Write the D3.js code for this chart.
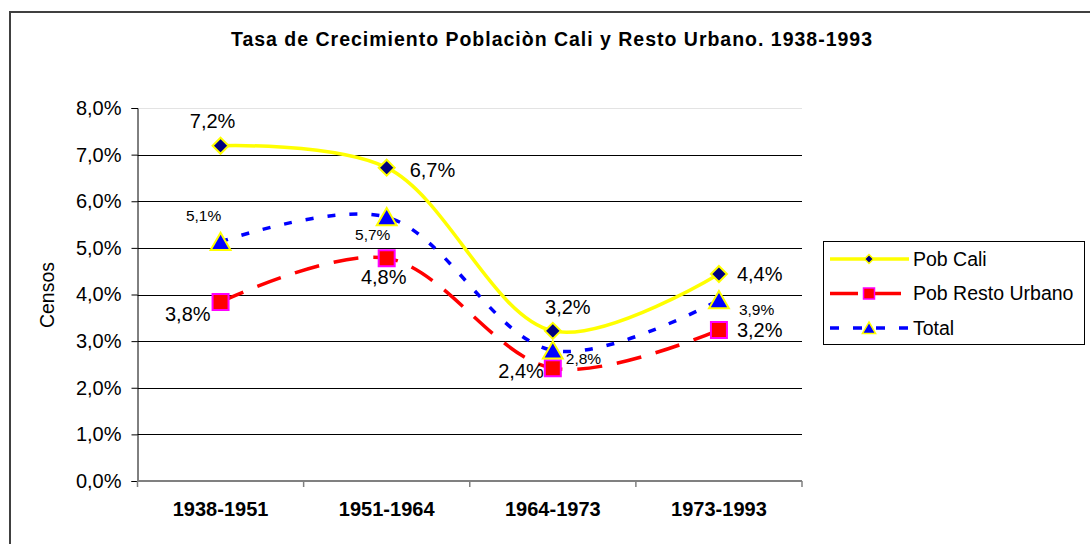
<!DOCTYPE html>
<html>
<head>
<meta charset="utf-8">
<script src="https://cdn.jsdelivr.net/npm/d3@7"></script>
<style>
  body { margin: 0; background: #fff; }
  svg { display: block; font-family: "Liberation Sans", Arial, sans-serif; }
</style>
</head>
<body>
<svg id="chart" width="1090" height="544"></svg>
<script>
// data
var categories = ["1938-1951", "1951-1964", "1964-1973", "1973-1993"];
var pobCali = [7.19, 6.72, 3.22, 4.44];
var pobResto = [3.84, 4.78, 2.42, 3.24];
var total = [5.13, 5.66, 2.80, 3.88];
var yTicks = [0, 1, 2, 3, 4, 5, 6, 7, 8];
var seriesNames = ["Pob Cali", "Pob Resto Urbano", "Total"];

var svg = d3.select("#chart");
// note: "top" is taken by window.top, so plot edges get their own names
var plotLeft = 137.5, plotRight = 802, plotTop = 108, plotBottom = 481;

var x = d3.scaleBand().domain(categories).range([plotLeft, plotRight]);
var y = d3.scaleLinear().domain([0, 8]).range([plotBottom, plotTop]);

var fmt = function (v) { return d3.format(".1f")(v).replace(".", ",") + "%"; };

// outer frame
svg.append("rect")
    .attr("x", 10).attr("y", 12)
    .attr("width", 1200).attr("height", 700)
    .attr("fill", "none").attr("stroke", "#404040").attr("stroke-width", 2);

// title
svg.append("text")
    .attr("x", 231).attr("y", 46)
    .attr("textLength", 641).attr("lengthAdjust", "spacing")
    .attr("font-size", 19.5).attr("font-weight", "bold")
    .text("Tasa de Crecimiento Poblaciòn Cali y Resto Urbano. 1938-1993");

// gridlines
svg.append("g").selectAll("line")
    .data(yTicks.filter(function (d) { return d > 0; }))
    .join("line")
    .attr("x1", plotLeft).attr("x2", plotRight)
    .attr("y1", function (d) { return Math.round(y(d)) + 0.5; })
    .attr("y2", function (d) { return Math.round(y(d)) + 0.5; })
    .attr("stroke", function (d) { return d === 8 ? "#e3e3e3" : "#000"; })
    .attr("stroke-width", 1);

// y axis
var yAxis = svg.append("g")
    .attr("transform", "translate(" + plotLeft + ",0)")
    .call(d3.axisLeft(y).tickValues(yTicks).tickSize(6).tickPadding(10).tickFormat(fmt));
yAxis.select(".domain").attr("stroke", "#000");
yAxis.selectAll(".tick line").attr("stroke", "#000");
yAxis.selectAll("text").attr("font-size", 20).attr("font-family", "Liberation Sans, Arial, sans-serif").attr("fill", "#000");

svg.append("text")
    .attr("transform", "translate(54,295) rotate(-90)")
    .attr("text-anchor", "middle")
    .attr("font-size", 19.5)
    .text("Censos");

// x axis: ticks on category boundaries
var bounds = categories.map(function (c) { return x(c); }).concat([plotRight]);
svg.append("line")
    .attr("x1", plotLeft).attr("x2", plotRight)
    .attr("y1", plotBottom).attr("y2", plotBottom)
    .attr("stroke", "#808080").attr("stroke-width", 2);
svg.append("g").selectAll("line")
    .data(bounds)
    .join("line")
    .attr("x1", function (d) { return d; }).attr("x2", function (d) { return d; })
    .attr("y1", plotBottom).attr("y2", plotBottom + 6)
    .attr("stroke", "#808080").attr("stroke-width", 1.5);
svg.append("g").selectAll("text")
    .data(categories)
    .join("text")
    .attr("x", function (d) { return x(d) + x.bandwidth() / 2; })
    .attr("y", 516)
    .attr("text-anchor", "middle")
    .attr("font-size", 20).attr("font-weight", "bold")
    .text(function (d) { return d; });

var cx = function (i) { return x(categories[i]) + x.bandwidth() / 2; };

var styles = [
    { values: pobCali, color: "#ffff00", dash: null, fill: "#000080", edge: "#ffff00", shape: "diamond", labelSize: 20,
      labels: [[-8, -25, "middle"], [23, 2, "start"], [15, -24, "middle"], [18, 0, "start"]] },
    { values: pobResto, color: "#ff0000", dash: "25,15", fill: "#ff0000", edge: "#ff00ff", shape: "square", labelSize: 20,
      labels: [[-10, 12, "end"], [-3, 19, "middle"], [-9, 3, "end"], [18, 0, "start"]] },
    { values: total, color: "#0000ff", dash: "8,14", fill: "#0000ff", edge: "#ffff00", shape: "triangle", labelSize: 15.5,
      labels: [[-17, -26, "middle"], [-14, 17, "middle"], [13, 8, "start"], [20, 9, "start"]] }
];

function markerPath(shape, s) {
    if (shape === "diamond") return "M0," + (-s) + "L" + s + ",0L0," + s + "L" + (-s) + ",0Z";
    if (shape === "square") return "M" + (-s) + "," + (-s) + "H" + s + "V" + s + "H" + (-s) + "Z";
    return "M0," + (-s) + "L" + (s * 1.1) + "," + (s * 0.9) + "L" + (-s * 1.1) + "," + (s * 0.9) + "Z";
}
var markerSize = { diamond: 8, square: 8, triangle: 9 };
var legendSize = { diamond: 4.5, square: 5.5, triangle: 6 };

var line = d3.line()
    .x(function (d, i) { return cx(i); })
    .y(function (d) { return y(d); })
    .curve(d3.curveCatmullRom);

styles.forEach(function (s) {
    svg.append("path")
        .datum(s.values)
        .attr("d", line)
        .attr("fill", "none")
        .attr("stroke", s.color).attr("stroke-width", 3.5)
        .attr("stroke-dasharray", s.dash);
});

styles.forEach(function (s) {
    svg.append("g").selectAll("path")
        .data(s.values)
        .join("path")
        .attr("transform", function (d, i) { return "translate(" + cx(i) + "," + y(d) + ")"; })
        .attr("d", markerPath(s.shape, markerSize[s.shape]))
        .attr("fill", s.fill).attr("stroke", s.edge).attr("stroke-width", 2);
});

styles.forEach(function (s) {
    svg.append("g").selectAll("text")
        .data(s.values)
        .join("text")
        .attr("x", function (d, i) { return cx(i) + s.labels[i][0]; })
        .attr("y", function (d, i) { return y(d) + s.labels[i][1]; })
        .attr("dy", "0.35em")
        .attr("text-anchor", function (d, i) { return s.labels[i][2]; })
        .attr("font-size", s.labelSize)
        .text(fmt);
});

// legend
var legend = svg.append("g");
legend.append("rect")
    .attr("x", 823.5).attr("y", 241.5)
    .attr("width", 261).attr("height", 103)
    .attr("fill", "#fff").attr("stroke", "#000").attr("stroke-width", 1);
var rows = [259, 293.5, 328];
styles.forEach(function (s, i) {
    var g = legend.append("g").attr("transform", "translate(0," + rows[i] + ")");
    g.append("line")
        .attr("x1", 830).attr("x2", 909)
        .attr("stroke", s.color).attr("stroke-width", 3.5)
        .attr("stroke-dasharray", s.dash ? (s.shape === "square" ? "28,15" : "9,14") : null);
    g.append("path")
        .attr("transform", "translate(869,0)")
        .attr("d", markerPath(s.shape, legendSize[s.shape]))
        .attr("fill", s.fill).attr("stroke", s.edge).attr("stroke-width", 1.5);
    g.append("text")
        .attr("x", 913).attr("dy", "0.35em")
        .attr("font-size", 19.5)
        .text(seriesNames[i]);
});
</script>
</body>
</html>
